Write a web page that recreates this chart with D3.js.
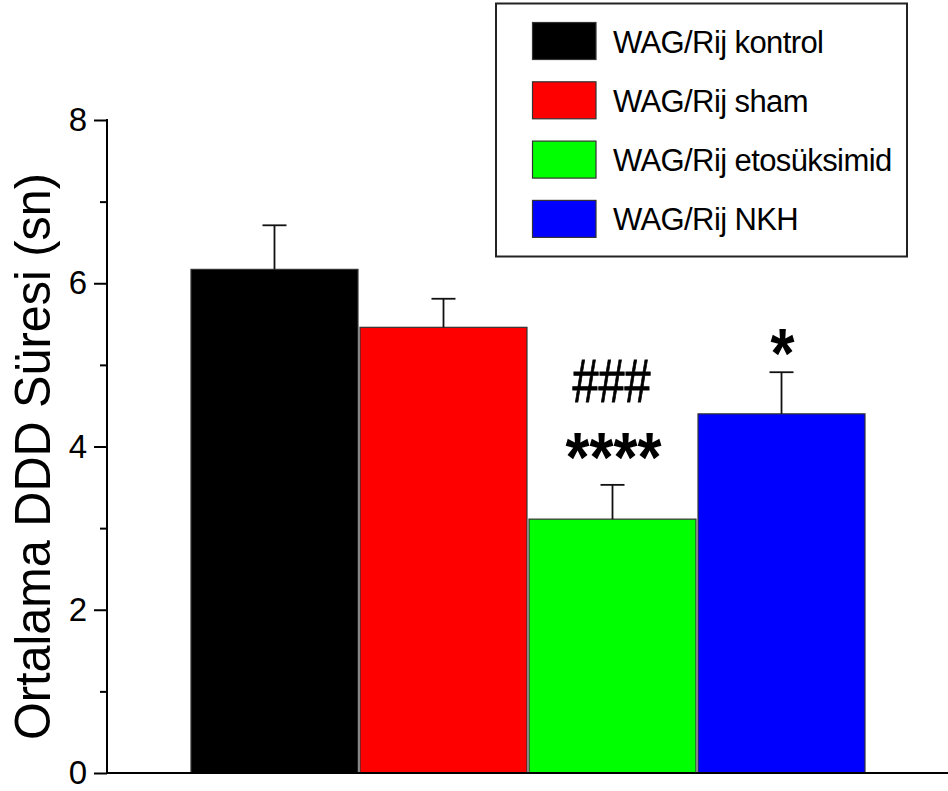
<!DOCTYPE html>
<html>
<head>
<meta charset="utf-8">
<script src="https://cdn.jsdelivr.net/npm/d3@7"></script>
<style>
  html, body { margin: 0; padding: 0; background: #fff; }
  svg { display: block; }
  text { font-family: Arial, "Liberation Sans", sans-serif; fill: #000; }
</style>
</head>
<body>
<svg id="chart" width="948" height="791"></svg>
<script>
// Group names (also used in the legend)
const groups = ["WAG/Rij kontrol", "WAG/Rij sham", "WAG/Rij etosüksimid", "WAG/Rij NKH"];
// Mean SWD duration (s) and standard error
const means = [6.17, 5.46, 3.11, 4.40];
const errors = [0.54, 0.35, 0.42, 0.51];
const colors = ["#000000", "#ff0000", "#00ff00", "#0000ff"];
// Significance marks above each group
const starMarks = ["", "", "****", "*"];
const hashMarks = ["", "", "###", ""];
// Axis ticks
const majorTicks = [0, 2, 4, 6, 8];
const minorTicks = [1, 3, 5, 7];
const yTitle = "Ortalama DDD Süresi (sn)";

const svg = d3.select("#chart");

const x = d3.scaleBand().domain(groups).range([191, 865]).paddingInner(0.012).paddingOuter(0);
const y = d3.scaleLinear().domain([0, 8]).range([773, 120]);
const axisX = 107;

// Bars
svg.append("g").selectAll("rect")
  .data(groups)
  .join("rect")
  .attr("x", d => x(d))
  .attr("width", x.bandwidth())
  .attr("y", (d, i) => y(means[i]))
  .attr("height", (d, i) => y(0) - y(means[i]))
  .attr("fill", (d, i) => colors[i])
  .attr("stroke", "#333")
  .attr("stroke-width", 1.2);

// Error bars (upper half)
const eb = svg.append("g").attr("stroke", "#111").attr("stroke-width", 1.8);
groups.forEach((g, i) => {
  const cx = x(g) + x.bandwidth() / 2;
  eb.append("line").attr("x1", cx).attr("x2", cx)
    .attr("y1", y(means[i])).attr("y2", y(means[i] + errors[i]));
  eb.append("line").attr("x1", cx - 12).attr("x2", cx + 12)
    .attr("y1", y(means[i] + errors[i])).attr("y2", y(means[i] + errors[i]));
});

// Y axis
const yAxis = svg.append("g").attr("transform", `translate(${axisX},0)`);
yAxis.call(d3.axisLeft(y).tickValues(majorTicks).tickFormat(d3.format("d")).tickSize(13).tickPadding(7));
yAxis.select(".domain").remove();
yAxis.selectAll(".tick line").attr("stroke", "#000").attr("stroke-width", 2);
yAxis.selectAll(".tick text").attr("font-size", 33).attr("font-family", "Arial, 'Liberation Sans', sans-serif");
const yMinor = svg.append("g").attr("transform", `translate(${axisX},0)`);
yMinor.call(d3.axisLeft(y).tickValues(minorTicks).tickFormat("").tickSize(7));
yMinor.select(".domain").remove();
yMinor.selectAll(".tick line").attr("stroke", "#000").attr("stroke-width", 2);

svg.append("line").attr("x1", axisX).attr("x2", axisX).attr("y1", y(8) - 1).attr("y2", y(0) + 1)
  .attr("stroke", "#000").attr("stroke-width", 2);
svg.append("line").attr("x1", axisX - 1).attr("x2", 948).attr("y1", y(0)).attr("y2", y(0))
  .attr("stroke", "#000").attr("stroke-width", 2.2);

// Y axis title
svg.append("text")
  .attr("transform", "translate(50,740) rotate(-90)")
  .attr("font-size", 50)
  .attr("textLength", 567)
  .attr("lengthAdjust", "spacingAndGlyphs")
  .text(yTitle);

// Significance marks
groups.forEach((g, i) => {
  const cx = x(g) + x.bandwidth() / 2;
  const top = y(means[i] + errors[i]);
  if (starMarks[i]) {
    const n = starMarks[i].length;
    svg.append("text")
      .attr("x", cx + 1).attr("y", n > 1 ? top - 3 : top + 6)
      .attr("text-anchor", "middle")
      .attr("font-size", 70).attr("font-weight", "bold")
      .attr("textLength", n * 24).attr("lengthAdjust", "spacingAndGlyphs")
      .text(starMarks[i]);
  }
  if (hashMarks[i]) {
    svg.append("text")
      .attr("x", cx - 1).attr("y", top - 83)
      .attr("text-anchor", "middle")
      .attr("font-size", 62)
      .attr("stroke", "#000").attr("stroke-width", 0.9)
      .attr("textLength", 78).attr("lengthAdjust", "spacingAndGlyphs")
      .text(hashMarks[i]);
  }
});

// Legend
const legend = svg.append("g");
legend.append("rect").attr("x", 496).attr("y", 3.5).attr("width", 411).attr("height", 253)
  .attr("fill", "#fff").attr("stroke", "#222").attr("stroke-width", 2);
const rows = legend.selectAll("g.row").data(groups).join("g")
  .attr("transform", (d, i) => `translate(0,${22.5 + i * 59.3})`);
rows.append("rect").attr("x", 532.5).attr("y", 0).attr("width", 63.5).attr("height", 37)
  .attr("fill", (d, i) => colors[i]).attr("stroke", "#333").attr("stroke-width", 1.2);
rows.append("text").attr("x", 613).attr("y", 30)
  .attr("font-size", 31).attr("letter-spacing", -0.6)
  .text(d => d);
</script>
</body>
</html>
